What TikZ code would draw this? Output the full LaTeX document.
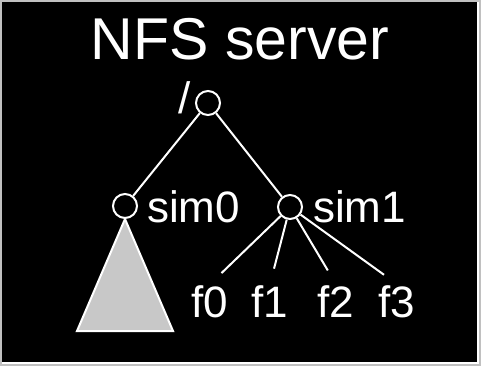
\documentclass[tikz,border=0pt]{standalone}
\usepackage{fontspec}
\setmainfont{Liberation Sans}
\usetikzlibrary{positioning}
\definecolor{frame}{HTML}{C0C0C0}
\definecolor{cone}{HTML}{C8C8C8}
\tikzset{dir/.style={circle,draw=white,fill=black,line width=2pt,minimum size=24pt,inner sep=0pt},
  lbl/.style={text=white,font=\fontsize{44}{50}\selectfont,inner sep=0pt}}

\begin{document}
\begin{tikzpicture}[x=1pt,y=-1pt,line width=2pt]
% panel with bevelled edge
\fill[frame] (0,0) rectangle (481,366);
\fill[white] (2,2) rectangle (479,364);
\fill[black] (2,2) rectangle (477,362);
\node[text=white,font=\fontsize{59}{70}\selectfont,anchor=base,inner sep=0pt] (title) at (240,60) {NFS server};
% directories
\node[dir] (root) at (208,103) {};
\node[dir] (sim0) at (125,206) {};
\node[dir] (sim1) at (290,207) {};
\node[lbl,anchor=base east] (rootlbl) at (192,114) {/};
\node[lbl,anchor=base west] (sim0lbl) at (146,222) {sim0};
\node[lbl,anchor=base west] (sim1lbl) at (312,222) {sim1};
\draw[white] (root) -- (sim0);
\draw[white] (root) -- (sim1);
% subtree under sim0
\filldraw[fill=cone,draw=white] (sim0.south) -- ++(-48,112) -- ++(96,0) -- cycle;
% files under sim1
\node[lbl,anchor=base] (f0) at (210,317) {f0};
\node[lbl,anchor=base] (f1) at (270,317) {f1};
\node[lbl,anchor=base] (f2) at (336,317) {f2};
\node[lbl,anchor=base] (f3) at (397,317) {f3};
\foreach \f in {f0,f1,f2,f3}
  \draw[white,shorten >=16pt] (sim1) -- (\f.north);
\end{tikzpicture}
\end{document}
